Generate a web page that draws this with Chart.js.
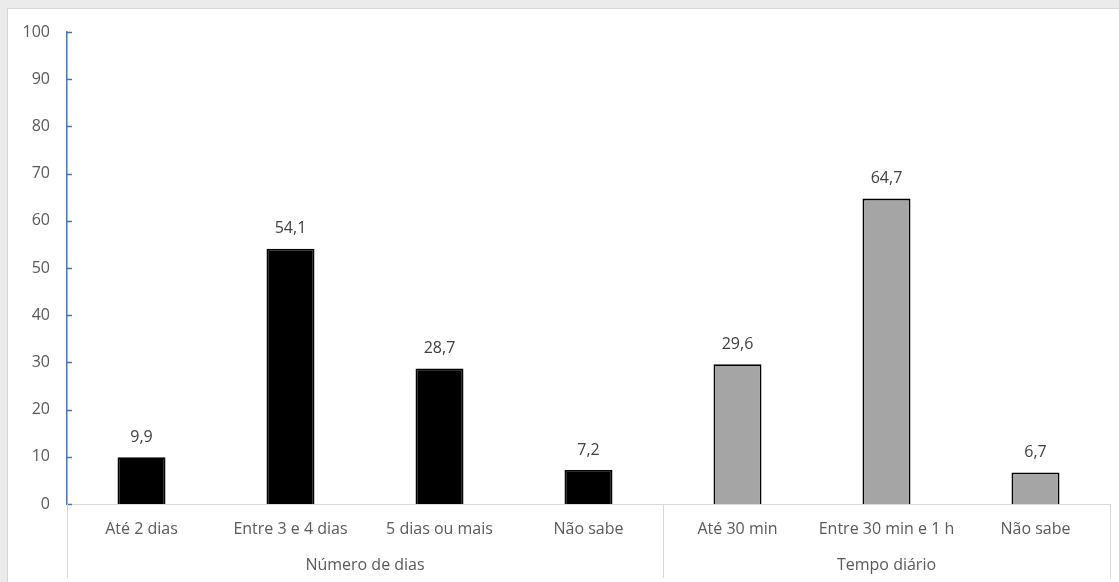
<!DOCTYPE html>
<html>
<head>
<meta charset="utf-8">
<script src="https://cdn.jsdelivr.net/npm/chart.js@4"></script>
<style>
html,body{margin:0;padding:0;background:#ebebeb;width:1119px;height:582px;overflow:hidden;}
#frame{position:absolute;left:7px;top:8px;width:1112px;height:574px;background:#fff;border-left:1px solid #d6d6d6;border-top:1px solid #d6d6d6;box-sizing:border-box;}
#c{position:absolute;left:0;top:0;}
</style>
</head>
<body>
<div id="frame"></div>
<canvas id="c" width="1119" height="582"></canvas>
<script>
const categories = ["Até 2 dias","Entre 3 e 4 dias","5 dias ou mais","Não sabe","Até 30 min","Entre 30 min e 1 h","Não sabe"];
const values = [9.9, 54.1, 28.7, 7.2, 29.6, 64.7, 6.7];
const groups = ["Número de dias","Tempo diário"];
const groupSizes = [4, 3];
const yTicks = [0,10,20,30,40,50,60,70,80,90,100];

const FONT = "'Open Sans', sans-serif";
const FS = 16;
const groupColors = ["#000000", "#a5a5a5"];
const barColors = [];
groupSizes.forEach((n, g) => { for (let i = 0; i < n; i++) barColors.push(groupColors[g]); });

const decor = {
  id: 'decor',
  afterDatasetsDraw(chart) {
    const ctx = chart.ctx;
    const x = chart.scales.x, y = chart.scales.y;
    const area = chart.chartArea;
    ctx.save();
    ctx.strokeStyle = '#4472c4';
    ctx.lineWidth = 1.5;
    yTicks.forEach(v => {
      const py = Math.round(y.getPixelForValue(v)) + 0.5;
      ctx.beginPath(); ctx.moveTo(area.left, py); ctx.lineTo(area.left + 5, py); ctx.stroke();
    });
    ctx.strokeStyle = '#d9d9d9';
    ctx.lineWidth = 1;
    const half = (x.getPixelForValue(1) - x.getPixelForValue(0)) / 2;
    const bounds = [0];
    let acc = 0;
    groupSizes.forEach(n => { acc += n; bounds.push(acc); });
    bounds.forEach(b => {
      const px = Math.round(x.getPixelForValue(b) - half) + 0.5;
      ctx.beginPath(); ctx.moveTo(px, area.bottom); ctx.lineTo(px, 578); ctx.stroke();
    });
    ctx.fillStyle = '#595959';
    ctx.font = FS + "px " + FONT;
    ctx.textAlign = 'center';
    ctx.textBaseline = 'middle';
    let start = 0;
    groupSizes.forEach((n, g) => {
      const cx = (x.getPixelForValue(start) + x.getPixelForValue(start + n - 1)) / 2;
      ctx.fillText(groups[g], cx, 565);
      start += n;
    });
    ctx.fillStyle = '#404040';
    const meta = chart.getDatasetMeta(0);
    meta.data.forEach((bar, i) => {
      ctx.fillText(values[i].toFixed(1).replace('.', ','), bar.x, bar.y - 20);
    });
    ctx.restore();
  }
};

new Chart(document.getElementById('c'), {
  type: 'bar',
  data: {
    labels: categories,
    datasets: [{
      data: values,
      backgroundColor: barColors,
      borderColor: '#000000',
      borderWidth: 1.8,
      categoryPercentage: 1,
      barPercentage: 0.322
    }]
  },
  options: {
    responsive: false,
    animation: false,
    layout: { padding: { left: 0, top: 32, right: 9, bottom: 0 } },
    plugins: { legend: { display: false }, tooltip: { enabled: false } },
    scales: {
      y: {
        min: 0, max: 100,
        afterBuildTicks: s => { s.ticks = yTicks.map(v => ({ value: v })); },
        afterFit: s => { s.width = 67; },
        grid: { display: false, drawTicks: false },
        border: { display: true, color: '#4472c4', width: 1.5 },
        ticks: { padding: 17, color: '#595959', font: { family: FONT, size: FS } }
      },
      x: {
        afterFit: s => { s.height = 78; },
        grid: { display: false, drawTicks: false },
        border: { display: true, color: '#d9d9d9', width: 1 },
        ticks: { padding: 16, color: '#595959', font: { family: FONT, size: FS }, maxRotation: 0, autoSkip: false }
      }
    }
  },
  plugins: [decor]
});
</script>
</body>
</html>
